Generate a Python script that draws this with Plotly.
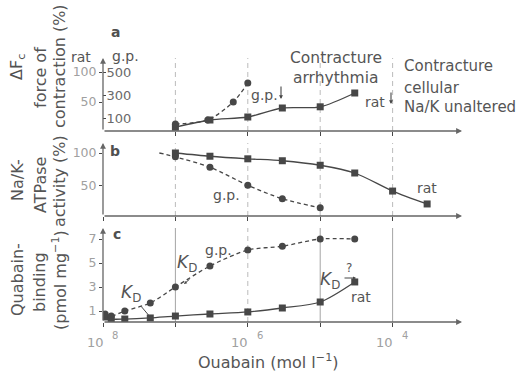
import math
import plotly.graph_objects as go

W, H = 527, 372
FONT = "DejaVu Sans"
INK = "#474747"
TXT = "#555555"
TICK = "#a0a0a0"
GUIDE = "#b4b4b4"

# ---------------- data ----------------
decades = [1e-8, 1e-7, 1e-6, 1e-5, 1e-4]
xlabel_conc = [1e-8, 1e-6, 1e-4]
xlabel_base = ["10", "10", "10"]
xlabel_exp = ["8", "6", "4"]

# panel a: change in force of contraction (%)
a_rat_conc = [1e-7, 3e-7, 1e-6, 3e-6, 1e-5, 3e-5]
a_rat_val = [8, 20, 25, 40, 42, 65]
a_gp_conc = [1e-7, 2.8e-7, 6.3e-7, 1e-6]
a_gp_val = [48, 83, 239, 404]
a_rat_ticks = [50, 100]
a_gp_ticks = [100, 300, 500]

# panel b: Na/K-ATPase activity (%)
b_rat_conc = [1e-7, 3e-7, 1e-6, 3e-6, 1e-5, 3e-5, 1e-4, 3e-4]
b_rat_val = [100, 95, 91, 88, 81, 69, 41, 21]
b_gp_conc = [6e-8, 1e-7, 3e-7, 1e-6, 3e-6, 1e-5]   # first point: start of curve only
b_gp_val = [100, 94, 78, 50, 29, 15]
b_ticks = [50, 100]

# panel c: ouabain binding (pmol mg-1)
c_gp_conc = [1.07e-8, 1.3e-8, 2e-8, 4.5e-8, 1e-7, 3e-7, 1e-6, 3e-6, 1e-5, 3e-5]
c_gp_val = [0.75, 0.58, 1.0, 1.67, 3.0, 4.75, 6.08, 6.4, 7.0, 7.0]
c_rat_conc = [1.05e-8, 1.3e-8, 2e-8, 4.5e-8, 1e-7, 3e-7, 1e-6, 3e-6, 1e-5, 3e-5]
c_rat_val = [0.5, 0.33, 0.33, 0.42, 0.58, 0.75, 0.92, 1.25, 1.75, 3.42]
c_ticks = [1, 3, 5, 7]

# guide lines (concentrations)
guide_conc = [1e-7, 1e-6, 1e-5, 1e-4]
guide_solid_c = [1e-7, 1e-5, 1e-4]


def px(x):
    return x / W


def py(y):
    return 1 - y / H


fig = go.Figure()

# panel y ranges
ya_range = [(132 - 131) / 0.6, (132 - 58) / 0.6]
ygp_range = [100 - 13 * 400 / 46, 100 + 60 * 400 / 46]
yb_range = [(217.5 - 216) / 0.645, (217.5 - 143) / 0.645]
yc_range = [(323 - 322) / 12, (323 - 228) / 12]

guide_line = dict(color=GUIDE, width=0.9, dash="5px,4px")
for c in guide_conc:
    fig.add_trace(go.Scatter(x=[c, c], y=ya_range, mode="lines", xaxis="x", yaxis="y",
                             line=guide_line, hoverinfo="skip", showlegend=False))
    fig.add_trace(go.Scatter(x=[c, c], y=yb_range, mode="lines", xaxis="x2", yaxis="y2",
                             line=guide_line, hoverinfo="skip", showlegend=False))
    if c in guide_solid_c:
        lc = dict(color="#9a9a9a", width=0.9)
    else:
        lc = guide_line
    fig.add_trace(go.Scatter(x=[c, c], y=yc_range, mode="lines", xaxis="x3", yaxis="y3",
                             line=lc, hoverinfo="skip", showlegend=False))

line_rat = dict(color=INK, width=1.3, shape="spline", smoothing=0.8)
line_gp = dict(color=INK, width=1.3, shape="spline", smoothing=0.8, dash="4px,3px")
m_sq = dict(symbol="square", size=7, color=INK)
m_ci = dict(symbol="circle", size=7, color=INK)

# panel a
fig.add_trace(go.Scatter(x=a_rat_conc, y=a_rat_val, mode="lines+markers", xaxis="x", yaxis="y",
                         line=line_rat, marker=m_sq, showlegend=False))
fig.add_trace(go.Scatter(x=a_gp_conc, y=a_gp_val, mode="lines+markers", xaxis="x", yaxis="y4",
                         line=line_gp, marker=m_ci, showlegend=False))
# panel b
fig.add_trace(go.Scatter(x=b_rat_conc, y=b_rat_val, mode="lines+markers", xaxis="x2", yaxis="y2",
                         line=line_rat, marker=m_sq, showlegend=False))
fig.add_trace(go.Scatter(x=b_gp_conc, y=b_gp_val, mode="lines", xaxis="x2", yaxis="y2",
                         line=line_gp, showlegend=False))
fig.add_trace(go.Scatter(x=b_gp_conc[1:], y=b_gp_val[1:], mode="markers", xaxis="x2", yaxis="y2",
                         marker=m_ci, showlegend=False))
# panel c
fig.add_trace(go.Scatter(x=c_rat_conc, y=c_rat_val, mode="lines+markers", xaxis="x3", yaxis="y3",
                         line=line_rat, marker=m_sq, showlegend=False))
fig.add_trace(go.Scatter(x=c_gp_conc, y=c_gp_val, mode="lines+markers", xaxis="x3", yaxis="y3",
                         line=line_gp, marker=m_ci, showlegend=False))

xdom = [px(103), px(465)]
xcommon = dict(type="log", range=[-8, -3], domain=xdom, showgrid=False, zeroline=False,
               showline=False, ticks="outside", ticklen=4, tickcolor=INK, tickwidth=1,
               tickvals=decades, showticklabels=False, fixedrange=True)
ycommon = dict(showgrid=False, zeroline=False, showline=False, ticks="outside", ticklen=3,
               tickcolor=INK, tickfont=dict(family=FONT, size=12.5, color=TICK), fixedrange=True)

fig.update_layout(
    width=W, height=H, margin=dict(l=0, r=0, t=0, b=0), autosize=False,
    paper_bgcolor="white", plot_bgcolor="white",
    font=dict(family=FONT, color=TXT),
    xaxis=dict(xcommon, anchor="y"),
    xaxis2=dict(xcommon, anchor="y2"),
    xaxis3=dict(xcommon, anchor="y3"),
    yaxis=dict(ycommon, domain=[py(131), py(58)], range=ya_range, anchor="x",
               tickvals=a_rat_ticks),
    yaxis4=dict(ycommon, overlaying="y", anchor="x", side="left", range=ygp_range,
                tickvals=a_gp_ticks, ticks="inside", ticklabelposition="inside",
                tickfont=dict(family=FONT, size=13, color="#6a6a6a")),
    yaxis2=dict(ycommon, domain=[py(216), py(143)], range=yb_range, anchor="x2",
                tickvals=b_ticks),
    yaxis3=dict(ycommon, domain=[py(322), py(228)], range=yc_range, anchor="x3",
                tickvals=c_ticks),
)

ann = []


def T(text, x, y, size=14, color=TXT, xa="center", ya="middle", angle=0):
    ann.append(dict(text=text, x=px(x), y=py(y), xref="paper", yref="paper", showarrow=False,
                    xanchor=xa, yanchor=ya, textangle=angle, borderpad=0,
                    font=dict(family=FONT, size=size, color=color)))


def A(x, y, dx, dy, head=2, size=0.8, width=1.2, color=INK):
    # arrow with tip at (x, y) and tail at (x+dx, y+dy), pixels
    ann.append(dict(text="", x=px(x), y=py(y), xref="paper", yref="paper", showarrow=True,
                    ax=dx, ay=dy, axref="pixel", ayref="pixel", arrowhead=head,
                    arrowsize=size, arrowwidth=width, arrowcolor=color, standoff=0))


# x tick labels (bottom axis) placed at their decades
for c, base, ex in zip(xlabel_conc, xlabel_base, xlabel_exp):
    ann.append(dict(text=base, x=math.log10(c), y=py(342), xref="x3", yref="paper",
                    showarrow=False, xanchor="center", yanchor="middle", xshift=-8,
                    font=dict(family=FONT, size=13, color=TICK)))
    ann.append(dict(text=ex, x=math.log10(c), y=py(335), xref="x3", yref="paper",
                    showarrow=False, xanchor="center", yanchor="middle", xshift=12,
                    font=dict(family=FONT, size=10, color=TICK)))

# axes with arrows
for yb, yt in [(131, 58), (216, 143), (322, 228)]:
    A(462, yb, -359, 0, head=2, size=0.9, width=1.3, color="#666666")
    A(103, yt, 0, yb - yt, head=2, size=0.9, width=1.3, color="#666666")

# rotated axis titles
T("ΔF<sub>c</sub>", 17, 67, size=16, color="#505050", angle=-90)
T("force of", 40, 78, size=16, angle=-90)
T("contraction (%)", 59, 66, size=16, angle=-90)
T("Na/K-", 17, 180, size=16, angle=-90)
T("ATPase", 40, 185, size=16, angle=-90)
T("activity (%)", 59, 181, size=16, angle=-90)
T("Quabain-", 17, 280, size=16, angle=-90)
T("binding", 39, 282, size=16, angle=-90)
T("(pmol mg<sup>−1</sup>)", 59, 280, size=16, angle=-90)

# panel labels
T("<b>a</b>", 115, 32, size=14, color="#505050")
T("<b>b</b>", 115, 151, size=14, color="#505050")
T("<b>c</b>", 117, 234, size=14, color="#505050")
T("rat", 81, 57, size=14)
T("g.p.", 125, 56, size=14)

# panel a texts
T("Contracture", 336, 58, size=15.5)
T("arrhythmia", 336, 78, size=15.5)
T("Contracture", 403, 66, size=15, xa="left")
T("cellular", 403, 88, size=15, xa="left")
T("Na/K unaltered", 403, 107, size=15, xa="left")
T("g.p.", 264, 95, size=14)
A(281, 99, 0, -14, head=2, size=0.7, width=1.1)
T("rat", 375, 102, size=14)
A(391, 104, 0, -13, head=2, size=0.7, width=1.1)

# panel b texts
T("g.p.", 226, 195, size=14)
T("rat", 427, 188, size=14)

# panel c texts
T("g.p.", 218, 250, size=14)
T("<i>K</i><sub>D</sub>", 120, 293, size=17, xa="left")
ann.append(dict(text="", x=px(151), y=py(318), xref="paper", yref="paper", showarrow=True,
                ax=-11, ay=-13, arrowhead=0, arrowwidth=1, arrowcolor=INK, standoff=0))
T("<i>K</i><sub>D</sub>", 176, 263, size=17, xa="left")
A(184, 284, 7, -6, head=2, size=0.6, width=1)
T("<i>K</i><sub>D</sub>", 319, 280, size=17, xa="left")
A(356, 278, -13, 0, head=2, size=0.6, width=1)
T("?", 349, 268, size=12)
T("rat", 361, 297, size=14)

# x-axis title
T("Ouabain (mol l<sup>−1</sup>)", 268, 361, size=16)

fig.update_layout(annotations=ann)
fig.write_html("out.html")
